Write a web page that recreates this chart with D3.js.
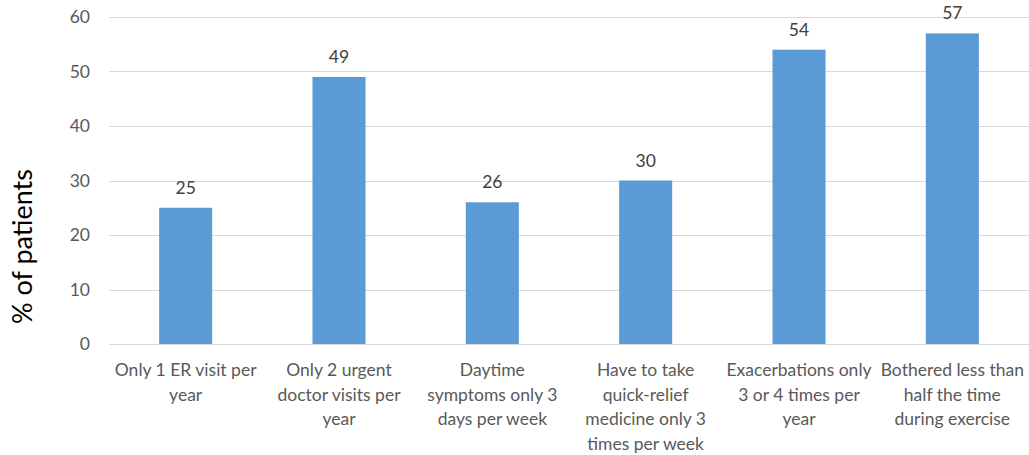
<!DOCTYPE html>
<html>
<head>
<meta charset="utf-8">
<script src="https://cdn.jsdelivr.net/npm/d3@7"></script>
<style>
  html, body { margin: 0; padding: 0; background: #fff; }
  svg { display: block; font-family: Lato, "Open Sans", sans-serif; }
</style>
</head>
<body>
<svg id="chart" width="1029" height="455"></svg>
<script>
// Goals reached by patients (% of patients)
const categories = [
  ["Only 1 ER visit per", "year"],
  ["Only 2 urgent", "doctor visits per", "year"],
  ["Daytime", "symptoms only 3", "days per week"],
  ["Have to take", "quick-relief", "medicine only 3", "times per week"],
  ["Exacerbations only", "3 or 4 times per", "year"],
  ["Bothered less than", "half the time", "during exercise"]
];
const values = [25, 49, 26, 30, 54, 57];
const yTicks = [0, 10, 20, 30, 40, 50, 60];

const svg = d3.select("#chart");
const plot = { left: 109, right: 1029, top: 17, bottom: 344 };

const x = d3.scaleBand()
  .domain(d3.range(values.length))
  .range([plot.left, plot.right])
  .paddingInner(0.654)
  .paddingOuter(0.327);

const y = d3.scaleLinear().domain([0, 60]).range([plot.bottom, plot.top]);

// gridlines
svg.append("g")
  .selectAll("line")
  .data(yTicks)
  .join("line")
  .attr("x1", plot.left)
  .attr("x2", plot.right)
  .attr("y1", d => Math.round(y(d)) + 0.5)
  .attr("y2", d => Math.round(y(d)) + 0.5)
  .attr("stroke", "#d9d9d9")
  .attr("stroke-width", 1);

// y tick labels
const yAxis = d3.axisLeft(y).tickValues(yTicks).tickSize(0).tickPadding(0);
const gy = svg.append("g").attr("transform", `translate(${plot.left - 19},0)`).call(yAxis);
gy.select(".domain").remove();
gy.selectAll("text")
  .attr("fill", "#595959")
  .style("font-size", "17.5px")
  .style("font-family", "Lato, 'Open Sans', sans-serif");

// bars
svg.append("g")
  .selectAll("rect")
  .data(values)
  .join("rect")
  .attr("x", (d, i) => x(i))
  .attr("width", x.bandwidth())
  .attr("y", d => y(d))
  .attr("height", d => y(0) - y(d))
  .attr("fill", "#5b9bd5");

// value labels
svg.append("g")
  .selectAll("text")
  .data(values)
  .join("text")
  .attr("x", (d, i) => x(i) + x.bandwidth() / 2)
  .attr("y", d => y(d) - 14)
  .attr("text-anchor", "middle")
  .attr("fill", "#404040")
  .style("font-size", "17.5px")
  .text(d => d);

// category labels
const cat = svg.append("g")
  .selectAll("text")
  .data(categories)
  .join("text")
  .attr("x", (d, i) => x(i) + x.bandwidth() / 2)
  .attr("y", plot.bottom + 32)
  .attr("text-anchor", "middle")
  .attr("fill", "#595959")
  .style("font-size", "17.5px");
cat.selectAll("tspan")
  .data(d => d)
  .join("tspan")
  .attr("x", function () { return d3.select(this.parentNode).attr("x"); })
  .attr("dy", (d, j) => j === 0 ? 0 : 24.5)
  .text(d => d);

// axis title
svg.append("text")
  .attr("transform", `translate(32,${(plot.top + plot.bottom) / 2 + 66}) rotate(-90)`)
  .attr("text-anchor", "middle")
  .attr("fill", "#000")
  .style("font-size", "27px")
  .text("% of patients");
</script>
</body>
</html>
